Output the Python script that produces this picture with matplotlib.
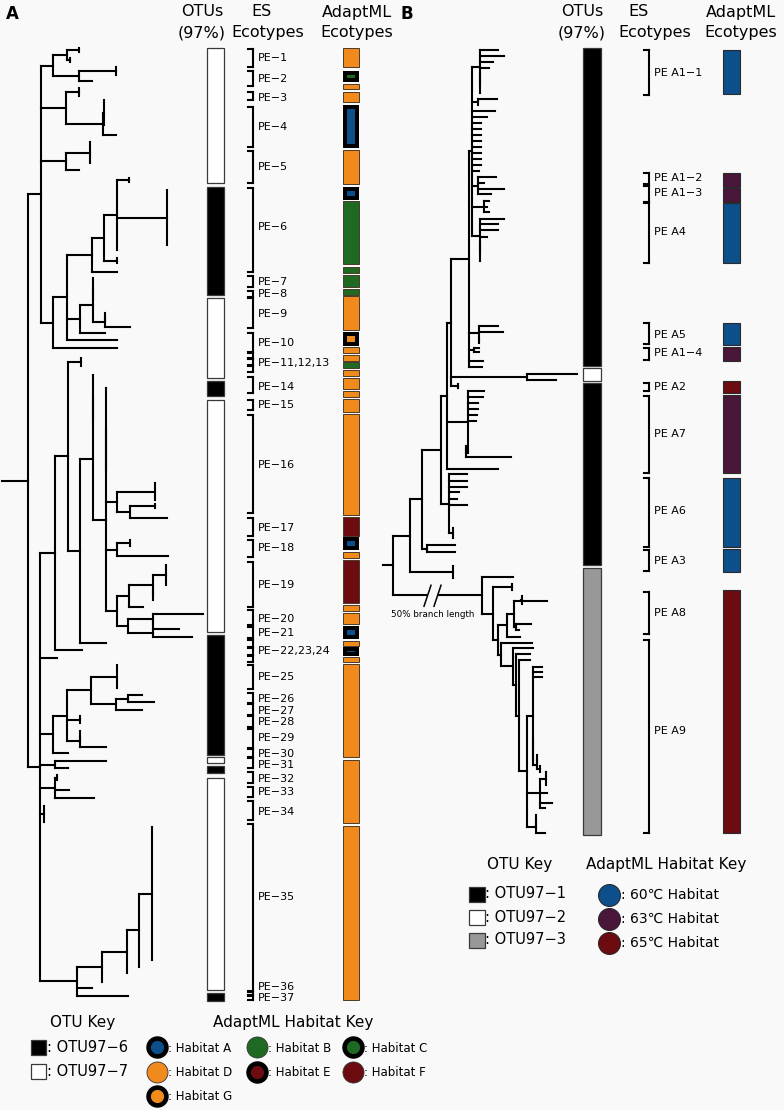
# Phylogeny with OTU, ES ecotype and AdaptML ecotype columns (panels A and B)
import matplotlib.pyplot as plt
from matplotlib.collections import LineCollection

BG = '#faf9f9'

# ---------------- data ----------------
# trees: internal node = [depth, child, child, ...]; leaf = (depth, y) or (depth, y_top, y_bottom)
tree_a = [28,
    [41,
        [53, [67, (79, 48, 52), (70, 58, 62)], [79, (116, 67, 75), (92, 81)]],
        [66, (79, 88, 96), [103, (104, 100, 125), (116, 135)]],
        [66, (90, 142, 163), (79, 170)],
        [53,
            [67,
                [92, [104, [117, (129, 178, 182), (167, 190, 245), (117, 250)], (117, 258, 263)], (117, 272)],
                [80, [93, (93, 278, 300), [105, (105, 313, 320), (130, 327)]], (105, 333)],
                (117, 340)],
            (117, 348)]],
    [40,
        [55,
            [68,
                (81, 358, 366),
                [80,
                    [93,
                        (93, 375, 420),
                        [106,
                            (106, 388, 470),
                            [117, (155, 483, 500), [130, (155, 504, 508), (167, 518)]],
                            [117, (130, 540, 546), (168, 556)],
                            [117, [129, [153, (166, 565, 585), (153, 590, 600)], (143, 607)],
                                  [128, [153, (203, 614), (153, 620, 628)], [153, (179, 629), (192, 637)]]]]],
                    (106, 643)]],
            (82, 650)],
        (57, 658),
        [53,
            [67,
                [91, (117, 665, 688), [116, [128, (142, 695), (154, 702)], (142, 710)]],
                (80, 716, 723),
                [80, (80, 731, 740), (106, 747)]],
            (68, 753)],
        [55, (106, 761), (68, 768)],
        [55, (57, 775, 780), (69, 790), (94, 798)],
        (44, 806, 822),
        [77, [102, [127, [139, (152, 827, 960), (139, 967)], (127, 973)], (102, 982)], (92, 988), (128, 996)]]]

tree_b_upper = [472,
    [480, (498, 50), (504, 56), (493, 62), (489, 68), (480, 74, 93)],
    [478, (497, 99), (478, 105)],
    (495, 111), (487, 117), (481, 123), (481, 129), (481, 135), (481, 141),
    (481, 147), (481, 153), (481, 159), (481, 165), (479, 171),
    [478, (496, 177), (484, 183), (504, 189), (491, 194)],
    [484, (489, 201), (487, 207), (489, 212)],
    [480, (504, 219), (498, 224), (498, 230), (487, 237), (480, 243, 261)]]

tree_b_otu3 = [482, (513, 577),
    [493, (512, 584, 590),
        [498,
            [507, [514, [521, (547, 601), (522, 596, 604)], [516, (531, 624), (519, 630)]], (520, 637)],
            [501, (532, 643),
                [513, (533, 648),
                    [516, (530, 654),
                        [519, (530, 660),
                            [527,
                                [533, (542, 667), (542, 672), (542, 677), (533, 740, 760),
                                      [537, (537, 755, 765), (540, 766, 772)]],
                                [540, (546, 772, 785), (547, 793), (552, 803), (545, 808)],
                                [536, (536, 815, 827), (545, 833)]]]]]]]]]

tree_b = [393,
    [410,
        [422,
            [441,
                [447,
                    [451,
                        [469, tree_b_upper,
                            [479, (498, 326), (503, 332), (479, 338, 343)],
                            [474, (479, 348), (479, 352)],
                            (483, 361), (482, 367)],
                        [527, (577, 374), (556, 380)],
                        (458, 384, 388)],
                    [468, (484, 391), (483, 397), (478, 403), (478, 409), (477, 415), (476, 421),
                          [466, (511, 457), (466, 446, 452)]],
                    (498, 469)],
                [449, (467, 474), (467, 481), (467, 487), (459, 492), (457, 499), (467, 505), (453, 528, 538)]],
            [427, (455, 545), (455, 552)]],
        (453, 566, 578)],
    tree_b_otu3]

# OTU columns: (top, bottom, otu)
otu_a = [(48, 183, 'OTU97-7'), (187, 295, 'OTU97-6'), (298, 378, 'OTU97-7'), (381, 396, 'OTU97-6'),
         (400, 632, 'OTU97-7'), (635, 755, 'OTU97-6'), (757, 763, 'OTU97-7'), (766, 773, 'OTU97-6'),
         (778, 990, 'OTU97-7'), (993, 1001, 'OTU97-6')]
otu_b = [(48, 366, 'OTU97-1'), (368, 381, 'OTU97-2'), (383, 565, 'OTU97-1'), (568, 835, 'OTU97-3')]

# ES ecotype brackets and labels
es_a_brackets = [(49, 67), (71, 86), (92, 100), (107, 147), (151, 183), (188, 272), (276, 287), (291, 297),
                 (298, 328), (333, 352), (353, 358), (359, 365), (366, 372), (377, 393), (400, 410),
                 (415, 513), (518, 536), (540, 557), (562, 607), (610, 625), (627, 638), (640, 647),
                 (648, 655), (656, 662), (665, 689), (693, 703), (704, 715), (716, 727), (729, 748),
                 (749, 757), (758, 768), (772, 783), (787, 797), (801, 820), (824, 991), (992, 995), (996, 1000)]
es_a_names = ['PE−1', 'PE−2', 'PE−3', 'PE−4', 'PE−5', 'PE−6', 'PE−7', 'PE−8', 'PE−9', 'PE−10',
              'PE−11,12,13', 'PE−14', 'PE−15', 'PE−16', 'PE−17', 'PE−18', 'PE−19', 'PE−20', 'PE−21',
              'PE−22,23,24', 'PE−25', 'PE−26', 'PE−27', 'PE−28', 'PE−29', 'PE−30', 'PE−31', 'PE−32',
              'PE−33', 'PE−34', 'PE−35', 'PE−36', 'PE−37']
es_a_label_y = [58, 79, 98, 127, 167, 227, 282, 294, 314, 343, 363, 387, 405, 465, 528, 548, 585, 619,
                633, 651, 677, 699, 711, 722, 738, 754, 765, 779, 792, 812, 897, 987, 998]

es_b_brackets = [(50, 95), (173, 184), (186, 202), (203, 263), (323, 344), (348, 360), (383, 391),
                 (396, 473), (478, 547), (550, 571), (592, 634), (640, 833)]
es_b_names = ['PE A1−1', 'PE A1−2', 'PE A1−3', 'PE A4', 'PE A5', 'PE A1−4', 'PE A2', 'PE A7',
              'PE A6', 'PE A3', 'PE A8', 'PE A9']
es_b_label_y = [73, 178, 193, 232, 335, 353, 387, 434, 511, 561, 613, 731]

# AdaptML ecotypes: (top, bottom, habitat)
adapt_a = [(48, 67, 'D'), (71, 82, 'C'), (84, 89, 'D'), (92, 102, 'D'), (105, 148, 'A'), (150, 184, 'D'),
           (187, 200, 'A'), (201, 264, 'B'), (267, 273, 'B'), (275, 287, 'B'), (289, 295, 'B'),
           (296, 330, 'D'), (332, 346, 'G'), (347, 353, 'D'), (355, 361, 'D'), (362, 368, 'B'),
           (370, 376, 'D'), (378, 389, 'D'), (391, 397, 'D'), (399, 412, 'D'), (414, 515, 'D'),
           (517, 536, 'F'), (537, 550, 'A'), (552, 558, 'D'), (560, 603, 'F'), (605, 611, 'D'),
           (613, 624, 'D'), (626, 639, 'A'), (641, 646, 'D'), (647, 656, 'A'), (657, 662, 'D'),
           (664, 757, 'D'), (760, 823, 'D'), (826, 1000, 'D')]
adapt_b = [(50, 94, '60'), (173, 187, '63'), (188, 202, '63'), (203, 263, '60'), (323, 345, '60'),
           (347, 361, '63'), (381, 393, '65'), (395, 473, '63'), (478, 547, '60'), (549, 572, '60'),
           (590, 833, '65')]

habitats_a = ['A', 'B', 'C', 'D', 'E', 'F', 'G']
otu_keys_a = ['OTU97-6', 'OTU97-7']
otu_keys_b = ['OTU97-1', 'OTU97-2', 'OTU97-3']
temps_b = ['60', '63', '65']

# ---------------- styles ----------------
BLUE, GREEN, ORANGE, RED, PURPLE = '#0c4f8b', '#1f6a22', '#f08a1d', '#6c0b10', '#4a1639'
hab_color = {'A': BLUE, 'B': GREEN, 'C': GREEN, 'D': ORANGE, 'E': RED, 'F': RED, 'G': ORANGE}
hab_ring = {'A': True, 'B': False, 'C': True, 'D': False, 'E': True, 'F': False, 'G': True}
temp_color = {'60': BLUE, '63': PURPLE, '65': RED}
otu_color = {'OTU97-6': 'black', 'OTU97-7': 'white', 'OTU97-1': 'black', 'OTU97-2': 'white',
             'OTU97-3': '#9a9896'}


def layout(node, segs):
    if isinstance(node, tuple):
        x, ys = node[0], node[1:]
        if len(ys) > 1:
            segs.append([(x, ys[0]), (x, ys[-1])])
        return x, (ys[0] + ys[-1]) / 2
    x = node[0]
    kids = [layout(c, segs) for c in node[1:]]
    for kx, ky in kids:
        segs.append([(x, ky), (kx, ky)])
    ys = [k[1] for k in kids]
    segs.append([(x, min(ys)), (x, max(ys))])
    return x, (min(ys) + max(ys)) / 2


fig = plt.figure(figsize=(7.84, 11.10), dpi=100, facecolor=BG)
ax = fig.add_axes([0, 0, 1, 1])
ax.set_facecolor(BG)
ax.set_xlim(0, 784)
ax.set_ylim(1110, 0)
ax.axis('off')

# trees
segs = []
rx, ry = layout(tree_a, segs)
segs.append([(2, ry), (rx, ry)])
rx, ry = layout(tree_b, segs)
segs.append([(383, ry), (rx, ry)])
ax.add_collection(LineCollection(segs, colors='black', linewidths=1.5, capstyle='projecting'))

# broken branch to OTU97-3 clade
gsegs = []
_, gy = layout(tree_b_otu3, gsegs)
ax.fill_between([428, 436], gy - 3, gy + 3, color=BG, zorder=3)
ax.plot([424, 431], [gy + 11, gy - 10], color='black', lw=1.1, zorder=4)
ax.plot([434, 441], [gy + 11, gy - 10], color='black', lw=1.1, zorder=4)
ax.text(433, gy + 19, '50% branch length', fontsize=6.3, ha='center', va='center')

# OTU columns
for (x0, w, data) in [(207, 17, otu_a), (583, 18, otu_b)]:
    for y0, y1, o in data:
        ax.bar(x0 + w / 2, y1 - y0, bottom=y0, width=w, color=otu_color[o],
               edgecolor='#3a3a3a', linewidth=0.9, zorder=2)

# ES brackets
for xb, br, names, ly, xl in [(253, es_a_brackets, es_a_names, es_a_label_y, 258),
                              (649, es_b_brackets, es_b_names, es_b_label_y, 654)]:
    bsegs = []
    for y0, y1 in br:
        bsegs += [[(xb, y0), (xb, y1)], [(xb - 5, y0), (xb, y0)], [(xb - 5, y1), (xb, y1)]]
    ax.add_collection(LineCollection(bsegs, colors='black', linewidths=1.5, capstyle='projecting'))
    for n, y in zip(names, ly):
        ax.text(xl, y, n, fontsize=8, ha='left', va='center')

# AdaptML columns
x0, w = 343, 16
for y0, y1, h in adapt_a:
    if hab_ring[h]:
        ax.bar(x0 + w / 2, y1 - y0, bottom=y0, width=w, color='black', zorder=2)
        inset = min(4, (y1 - y0 - 1) / 2)
        ax.bar(x0 + w / 2, y1 - y0 - 2 * inset, bottom=y0 + inset, width=w - 8,
               color=hab_color[h], zorder=3)
    else:
        ax.bar(x0 + w / 2, y1 - y0, bottom=y0, width=w, color=hab_color[h],
               edgecolor='#4a3a2a', linewidth=0.7, zorder=2)
x0, w = 723, 17
for y0, y1, t in adapt_b:
    ax.bar(x0 + w / 2, y1 - y0, bottom=y0, width=w, color=temp_color[t],
           edgecolor='#2a2a2a', linewidth=0.8, zorder=2)

# headers
ax.text(12, 14, 'A', fontsize=12, fontweight='bold', ha='center', va='center')
ax.text(407, 14, 'B', fontsize=12, fontweight='bold', ha='center', va='center')
for xo, xe1, xe2, xa in [(202, 262, 268, 357), (582, 639, 655, 741)]:
    ax.text(xo, 12, 'OTUs', fontsize=11.5, ha='center', va='center')
    ax.text(xo, 33, '(97%)', fontsize=11.5, ha='center', va='center')
    ax.text(xe1, 12, 'ES', fontsize=11.5, ha='center', va='center')
    ax.text(xe2, 33, 'Ecotypes', fontsize=11.5, ha='center', va='center')
    ax.text(xa, 12, 'AdaptML', fontsize=11.5, ha='center', va='center')
    ax.text(xa, 33, 'Ecotypes', fontsize=11.5, ha='center', va='center')

# legend A
ax.text(83, 1022, 'OTU Key', fontsize=11, ha='center', va='center')
for i, o in enumerate(otu_keys_a):
    y = 1047 + 24 * i
    ax.bar(39, 15, bottom=y - 7.5, width=15, color=otu_color[o], edgecolor='#3a3a3a', linewidth=0.9)
    ax.text(47, y, ': ' + o.replace('-', '−'), fontsize=10.5, ha='left', va='center')
ax.text(293, 1022, 'AdaptML Habitat Key', fontsize=11, ha='center', va='center')
pos = {'A': (157, 1047), 'B': (257, 1047), 'C': (353, 1047), 'D': (157, 1072),
       'E': (257, 1072), 'F': (353, 1072), 'G': (157, 1096)}
for h in habitats_a:
    cx, cy = pos[h]
    if hab_ring[h]:
        ax.scatter([cx], [cy], s=230, color='black', zorder=3)
        ax.scatter([cx], [cy], s=72, color=hab_color[h], zorder=4)
    else:
        ax.scatter([cx], [cy], s=230, color=hab_color[h], edgecolors='#333333', linewidths=0.6, zorder=3)
    ax.text(cx + 11, cy + 1, ': Habitat ' + h, fontsize=8.5, ha='left', va='center')

# legend B
ax.text(520, 865, 'OTU Key', fontsize=11, ha='center', va='center')
for i, o in enumerate(otu_keys_b):
    y = 894 + 23 * i
    ax.bar(477, 15, bottom=y - 7.5, width=16, color=otu_color[o], edgecolor='#3a3a3a', linewidth=0.9)
    ax.text(485, y, ': ' + o.replace('-', '−'), fontsize=10.5, ha='left', va='center')
ax.text(666, 865, 'AdaptML Habitat Key', fontsize=11, ha='center', va='center')
for i, t in enumerate(temps_b):
    y = 895 + 24 * i
    ax.scatter([609], [y], s=250, color=temp_color[t], edgecolors='#222222', linewidths=0.7, zorder=3)
    ax.text(621, y, ': ' + t + '℃ Habitat', fontsize=10, ha='left', va='center')

fig.savefig('out.png', dpi=100, facecolor=BG)
